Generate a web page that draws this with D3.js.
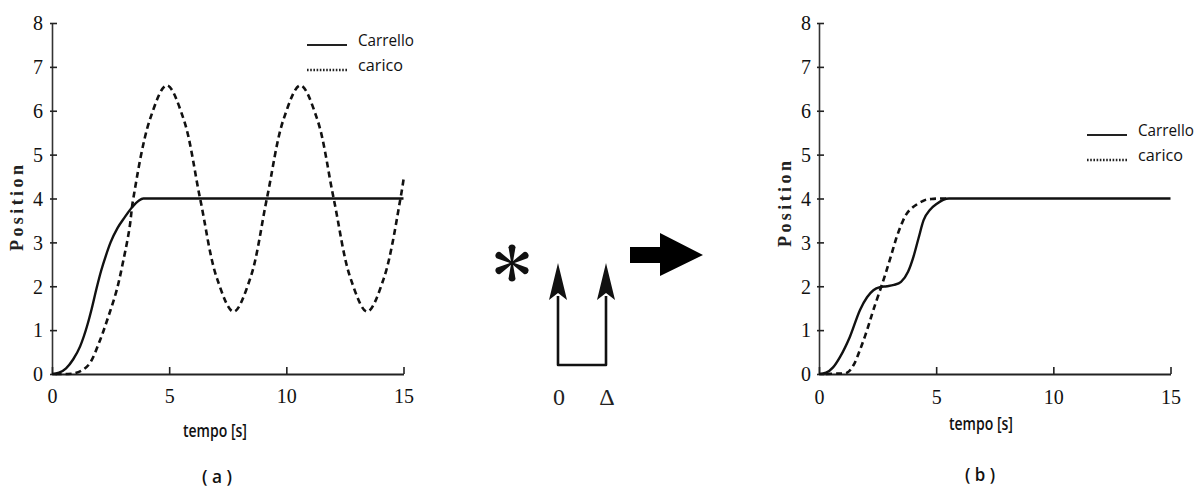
<!DOCTYPE html>
<html>
<head>
<meta charset="utf-8">
<script src="https://cdn.jsdelivr.net/npm/d3@7"></script>
<style>
  html, body { margin: 0; padding: 0; background: #fff; }
  svg { display: block; }
</style>
</head>
<body>
<svg id="chart" width="1202" height="488"></svg>
<script>
// ---------------- DATA ----------------
const xTicks = [0, 5, 10, 15];
const yTicks = [0, 1, 2, 3, 4, 5, 6, 7, 8];
const legendLabels = ["Carrello", "carico"];
const xAxisTitle = "tempo [s]";
const yAxisTitle = "Position";
const panelLabels = ["( a )", "( b )"];
const impulseLabels = ["0", "Δ"];

// panel (a): [time s, position]
const carrelloA = [[0,0],[0.3,0.03],[0.6,0.13],[0.9,0.33],[1.2,0.63],[1.5,1.1],[1.7,1.5],[1.9,1.95],[2.1,2.36],[2.3,2.7],[2.5,3.0],[2.8,3.33],[3.1,3.57],[3.4,3.79],[3.7,3.95],[3.9,4.0],[15,4.0]];
const caricoA = [[0.15,0],[0.6,0],[1.0,0.02],[1.33,0.1],[1.62,0.25],[2.05,0.77],[2.4,1.3],[2.76,1.91],[3.05,2.6],[3.3,3.3],[3.47,4.0],[4.19,5.82],[4.9,6.58],[5.61,5.82],[6.32,4.0],[7.04,2.18],[7.75,1.42],[8.46,2.18],[9.17,4.0],[9.89,5.82],[10.6,6.58],[11.31,5.82],[12.02,4.0],[12.74,2.18],[13.45,1.42],[14.16,2.18],[14.87,4.0],[15.02,4.5]];

// panel (b)
const carrelloB = [[0,0],[0.3,0.03],[0.6,0.15],[0.9,0.39],[1.32,0.85],[1.75,1.46],[2.05,1.75],[2.32,1.91],[2.6,1.98],[2.9,2.0],[3.2,2.03],[3.5,2.1],[3.8,2.33],[4.03,2.67],[4.25,3.1],[4.46,3.5],[4.75,3.75],[5.03,3.88],[5.3,3.97],[5.55,4.0],[15,4.0]];
const caricoB = [[0.3,0],[0.8,0.01],[1.2,0.03],[1.47,0.2],[1.75,0.55],[2.05,1.0],[2.32,1.46],[2.75,2.14],[3.05,2.65],[3.32,3.13],[3.55,3.45],[3.75,3.66],[4.03,3.81],[4.46,3.95],[4.8,3.99],[5.17,4.0],[5.5,4.0]];

// ---------------- DRAW ----------------
const svg = d3.select("#chart");
const ink = "#111";
const serif = "'Liberation Serif','DejaVu Serif',serif";
const sans = "'Open Sans','Liberation Sans',Arial,sans-serif";

function panel(cfg) {
  const x = d3.scaleLinear().domain([0, 15]).range([cfg.x0, cfg.x1]);
  const y = d3.scaleLinear().domain([0, 8]).range([374, 23]);
  const g = svg.append("g");

  // y axis
  const ya = g.append("g").attr("transform", `translate(${cfg.x0},0)`)
    .call(d3.axisLeft(y).tickValues(yTicks).tickFormat(d3.format("d"))
      .tickSizeInner(-5).tickSizeOuter(0).tickPadding(cfg.yPad));
  ya.select(".domain").attr("stroke", "#333").attr("stroke-width", 1.6);
  ya.selectAll(".tick line").attr("stroke", "#222").attr("stroke-width", 1.6).attr("x1", -2);
  ya.selectAll(".tick text").attr("font-family", serif).attr("font-size", 20)
    .attr("fill", ink).attr("dy", "0.34em");

  // x axis
  const xa = g.append("g").attr("transform", "translate(0,374)")
    .call(d3.axisBottom(x).tickValues(xTicks).tickFormat(d3.format("d"))
      .tickSizeInner(-7).tickSizeOuter(0).tickPadding(cfg.xPad));
  xa.select(".domain").attr("stroke", "#222").attr("stroke-width", 2);
  xa.selectAll(".tick line").attr("stroke", "#222").attr("stroke-width", 1.6);
  xa.selectAll(".tick text").attr("font-family", serif).attr("font-size", 20)
    .attr("fill", ink);

  const lineM = d3.line().x(d => x(d[0])).y(d => y(d[1])).curve(d3.curveMonotoneX);
  const lineC = d3.line().x(d => x(d[0])).y(d => y(d[1])).curve(d3.curveCatmullRom.alpha(0.5));

  g.append("path").datum(cfg.carrello).attr("d", lineM)
    .attr("fill", "none").attr("stroke", ink).attr("stroke-width", 2.4);
  g.append("path").datum(cfg.carico).attr("d", lineC)
    .attr("fill", "none").attr("stroke", ink).attr("stroke-width", 2.6)
    .attr("stroke-dasharray", "6,4");

  // axis titles
  g.append("text").attr("transform", `translate(${cfg.ytX},${cfg.ytY}) rotate(-90)`)
    .attr("text-anchor", "middle").attr("font-family", serif).attr("font-weight", "bold")
    .attr("font-size", 18).attr("textLength", 86).attr("lengthAdjust", "spacing")
    .attr("fill", "#222").text(yAxisTitle);
  g.append("text").attr("x", cfg.xtX).attr("y", cfg.xtY)
    .attr("text-anchor", "middle").attr("font-family", sans).attr("font-weight", 600)
    .attr("font-size", 18).attr("textLength", 64).attr("lengthAdjust", "spacingAndGlyphs")
    .attr("fill", "#111").text(xAxisTitle);
  g.append("text").attr("x", cfg.plX).attr("y", cfg.plY)
    .attr("text-anchor", "middle").attr("font-family", sans).attr("font-weight", 600)
    .attr("font-size", 18).attr("textLength", 30).attr("lengthAdjust", "spacingAndGlyphs")
    .attr("fill", "#111").text(cfg.panelLabel);

  // legend
  const lg = g.append("g");
  lg.append("line").attr("x1", cfg.lgX).attr("x2", cfg.lgX + 40)
    .attr("y1", cfg.lgY + 5).attr("y2", cfg.lgY + 5)
    .attr("stroke", "#222").attr("stroke-width", 2);
  lg.append("line").attr("x1", cfg.lgX).attr("x2", cfg.lgX + 40)
    .attr("y1", cfg.lgY + 30).attr("y2", cfg.lgY + 30)
    .attr("stroke", "#222").attr("stroke-width", 2.4).attr("stroke-dasharray", "1.6,1.6");
  lg.selectAll("text.lab").data(legendLabels).join("text")
    .attr("x", cfg.lgX + 51).attr("y", (d, i) => cfg.lgY + 6 + i * 25)
    .attr("font-family", sans).attr("font-weight", 500).attr("font-size", 17).attr("fill", "#111")
    .attr("textLength", (d, i) => i === 0 ? 56 : 45).attr("lengthAdjust", "spacingAndGlyphs")
    .text(d => d);
}

panel({ x0: 52, x1: 403.5, carrello: carrelloA, carico: caricoA,
  yPad: 9, xPad: 15, ytX: 23, ytY: 208, xtX: 215, xtY: 437, plX: 217, plY: 483,
  panelLabel: panelLabels[0], lgX: 307, lgY: 40 });
panel({ x0: 819, x1: 1170.5, carrello: carrelloB, carico: caricoB,
  yPad: 8, xPad: 16, ytX: 791, ytY: 204, xtX: 981, xtY: 430, plX: 980, plY: 481,
  panelLabel: panelLabels[1], lgX: 1087, lgY: 130 });

// ---------------- middle: convolution symbol ----------------
const mid = svg.append("g");
// asterisk
const armAngles = [90, 30, -30, -90, -150, 150];
const ast = mid.append("g").attr("transform", "translate(512,263)");
ast.selectAll("path").data(armAngles).join("path")
  .attr("d", "M0,-0.8 L15.8,-3.5 A3.6,3.6 0 0 1 15.8,3.5 L0,0.8 Z")
  .attr("transform", d => `rotate(${-d})`).attr("fill", "#111");
ast.append("circle").attr("r", 2.2).attr("fill", "#111");

// impulse pair
const ix = [558, 606];
mid.append("path")
  .attr("d", `M${ix[0]},296 L${ix[0]},365 L${ix[1]},365 L${ix[1]},296`)
  .attr("fill", "none").attr("stroke", "#111").attr("stroke-width", 2.6)
  .attr("stroke-linejoin", "round");
mid.selectAll("path.head").data(ix).join("path").attr("class", "head")
  .attr("d", d => `M${d},263 L${d + 9},300 L${d},293 L${d - 9},300 Z`)
  .attr("fill", "#111");
mid.selectAll("text.imp").data(impulseLabels).join("text").attr("class", "imp")
  .attr("x", (d, i) => ix[i] + 1).attr("y", 405)
  .attr("text-anchor", "middle").attr("font-family", serif).attr("font-size", 24)
  .attr("fill", "#222").text(d => d);

// big arrow
mid.append("path")
  .attr("d", "M630,247 L660,247 L660,233 L703,255 L660,276 L660,263 L630,263 Z")
  .attr("fill", "#000");
</script>
</body>
</html>
